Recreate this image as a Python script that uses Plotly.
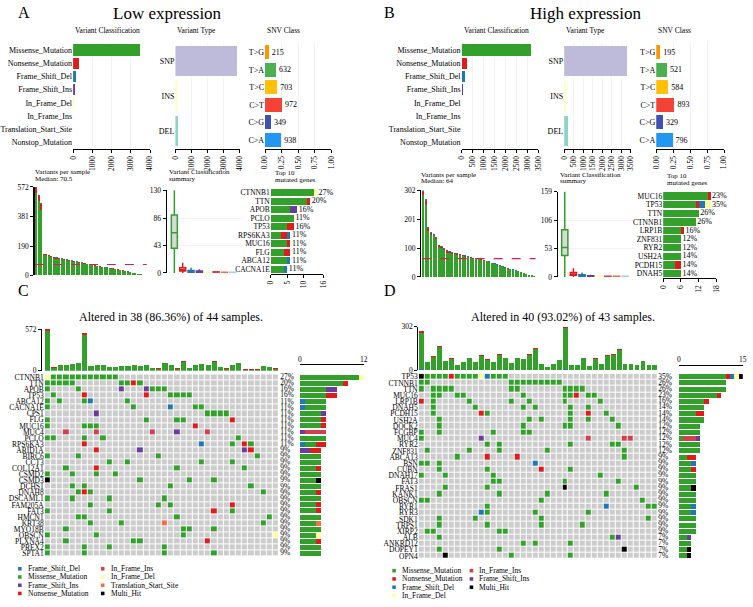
import statistics
import plotly.graph_objects as go

W, H = 753, 607
FONT = "Liberation Serif"

# ============================ DATA ============================
vc_classes = ["Missense_Mutation", "Nonsense_Mutation", "Frame_Shift_Del", "Frame_Shift_Ins",
              "In_Frame_Del", "In_Frame_Ins", "Translation_Start_Site", "Nonstop_Mutation"]
vc_low = [3496, 306, 154, 85, 30, 20, 5, 2]
vc_high = [3157, 239, 149, 59, 25, 15, 3, 1]
vc_ticks_low = [0, 1000, 2000, 3000, 4000]
vc_ticks_high = [0, 500, 1000, 1500, 2000, 2500, 3000, 3500]

vt_types = ["SNP", "INS", "DEL"]
vt_low = [3809, 105, 184]
vt_high = [3318, 74, 174]

snv_classes = ["T>G", "T>A", "T>C", "C>T", "C>G", "C>A"]
snv_low = [215, 632, 703, 972, 349, 938]
snv_high = [195, 521, 584, 893, 329, 796]
snv_ticks = [0, 0.25, 0.5, 0.75, 1.0]
snv_ticktext = ["0.00", "0.25", "0.50", "0.75", "1.00"]

# variants per sample (sorted) split into missense / nonsense / other
vps_low_mis = [534, 484, 426, 132, 130, 127, 121, 113, 109, 105, 103, 102, 98, 94, 92, 89, 85, 82, 80, 76, 72, 68,
               65, 62, 59, 56, 54, 52, 49, 46, 43, 40, 37, 34, 31, 28, 24, 20, 16, 13, 10, 7, 4, 2]
vps_low_non = [30, 30, 36, 6, 6, 6, 5, 5, 5, 5, 5, 4, 4, 4, 4, 4, 4, 4, 3, 3, 3, 3, 3, 3, 3, 3, 2, 2, 2, 2, 2, 2,
               2, 2, 1, 1, 1, 1, 1, 1, 0, 0, 0, 0]
vps_low_oth = [8, 8, 6, 3, 2, 2, 2, 2, 2, 2, 2, 2, 2, 2, 1, 1, 1, 1, 1, 1, 1, 1, 1, 1, 1, 1, 1, 1, 1, 1, 1, 1, 1,
               1, 1, 1, 1, 1, 1, 0, 0, 0, 0, 0]
vps_high_mis = [286, 252, 161, 145, 142, 131, 105, 101, 94, 85, 84, 81, 79, 78, 76, 74, 71, 68, 66, 63, 62, 61, 59,
                57, 54, 51, 47, 44, 41, 38, 35, 32, 29, 26, 24, 21, 19, 16, 14, 11, 8, 5, 3]
vps_high_non = [10, 14, 9, 8, 6, 6, 5, 5, 4, 8, 4, 4, 3, 3, 3, 3, 3, 3, 3, 3, 2, 2, 2, 2, 2, 2, 2, 2, 2, 1, 1, 1,
                1, 1, 1, 1, 1, 1, 0, 0, 0, 0, 0]
vps_high_oth = [6, 5, 3, 3, 2, 2, 2, 2, 2, 2, 2, 2, 2, 1, 1, 1, 1, 1, 1, 1, 1, 1, 1, 1, 1, 1, 1, 1, 1, 1, 1, 1, 1,
                1, 1, 1, 0, 0, 0, 0, 0, 0, 0]

# variant classification summary boxplots
box_low_q1 = [39, 3, 1, 1, 0, 0, 0, 0]
box_low_med = [63, 5, 2, 2, 0, 1, 0, 0]
box_low_q3 = [91, 8, 4, 3, 1, 2, 1, 1]
box_low_lo = [0, 0, 0, 0, 0, 0, 0, 0]
box_low_hi = [165, 16, 8, 6, 2, 3, 2, 2]
box_low_ticks = [0, 43, 86, 130]
box_high_q1 = [40, 3, 1, 0, 0, 0, 0, 0]
box_high_med = [55, 5, 2, 1, 0, 0, 0, 0]
box_high_q3 = [88, 8, 4, 2, 1, 1, 1, 1]
box_high_lo = [0, 0, 0, 0, 0, 0, 0, 0]
box_high_hi = [200, 16, 8, 4, 2, 2, 2, 2]
box_high_ticks = [0, 53, 106, 159]

# top 10 mutated genes
top_low_genes = ["CTNNB1", "TTN", "APOB", "PCLO", "TP53", "RPS6KA3", "MUC16", "FLG", "ABCA12", "CACNA1E"]
top_low_mis = [13, 11, 6, 7, 5, 3, 5, 4, 5, 4]
top_low_non = [0, 1, 0, 0, 2, 2, 1, 2, 0, 0]
top_low_fsd = [0, 0, 0, 0, 0, 1, 0, 0, 1, 1]
top_low_fsi = [0, 0, 2, 0, 0, 0, 0, 0, 0, 0]
top_low_ifd = [1, 0, 0, 0, 0, 0, 0, 0, 0, 0]
top_low_pct = ["27%", "20%", "16%", "11%", "16%", "11%", "11%", "11%", "11%", "11%"]
top_low_ticks = [0, 5, 10, 16]

top_high_genes = ["MUC16", "TP53", "TTN", "CTNNB1", "LRP1B", "ZNF831", "RYR2", "USH2A", "PCDH15", "DNAH5"]
top_high_mis = [15, 11, 12, 11, 6, 6, 6, 6, 4, 6]
top_high_non = [1, 1, 0, 0, 1, 0, 0, 0, 2, 0]
top_high_fsd = [0, 2, 0, 0, 0, 0, 0, 0, 0, 0]
top_high_fsi = [0, 0, 0, 0, 0, 0, 0, 0, 0, 0]
top_high_ifd = [0, 2, 0, 0, 0, 0, 0, 0, 0, 0]
top_high_pct = ["23%", "35%", "26%", "26%", "16%", "12%", "12%", "14%", "14%", "14%"]
top_high_ticks = [0, 6, 12, 18]

# oncoplot C (low expression): 38 altered samples of 44
onco_low_samples_total = 44
onco_low_genes = ["CTNNB1", "TTN", "APOB", "TP53", "ABCA12", "CACNA1E", "CPS1", "FLG", "MUC16", "MUC4", "PCLO",
                  "RPS6KA3", "ARID1A", "BIRC6", "CCT3", "COL12A1", "CSMD2", "CSMD3", "DCHS1", "DNAH8", "DSCAML1",
                  "FAM205A", "FAT3", "HMCN1", "KRT38", "MYO18B", "OBSCN", "PLXNA4", "PREX2", "SPTA1"]
onco_low_rows = [
    "dMMMMMMMMM" "MM........" ".........." "........",
    "MMMMM....." "..MMNM...." ".........." "........",
    "M....M...." "..I...IMMM" ".........." "........",
    ".M....N..." "......N..." "MMMM......" "........",
    "M.M...MD.." "...M......" ".........." "........",
    "M........." "....M....." "D...MM...." "........",
    "........I." ".........." "......MMMM" "........",
    "M........." "......M..." ".MM......." "N.......",
    "M.....MMM." ".........." "....N....." "........",
    "...i....i." ".......i.." ".I....i..." "........",
    "MM....M..M" ".........." ".........." ".M......",
    "......N..." ".........." ".....D...." "M.NM....",
    "........N." ".....I...." ".........." "..IN....",
    "M....M...." "........M." ".........." "....M...",
    ".........." "M..M......" ".....M...." "M.......",
    "...M....N." ".........." ".M........" "..M.....",
    "M...M...M." ".M........" ".........." "........",
    "X........." ".....M...." "...M...M.." "........",
    "....M.M..." ".........." "M........." "...M....",
    ".....MNM.." ".........." ".........." ".....M..",
    "M...M....." "M........M" ".........." "........",
    ".......M.." "........M." "M........." "N.......",
    "M........." "M........." ".......N.." "M.......",
    ".....MM..." ".........." ".M........" "......M.",
    ".......M.." "..M......T" ".........." ".....M..",
    "...M......" ".........." "..MM...M.." "........",
    "M.......M." ".........." "..M......." ".......d",
    "...M......" "....MM...." "......N..." "........",
    "M.....M..." "M........M" ".........." "........",
    "M.....M..." ".........M" ".......M.." "........",
]
onco_low_tmb_mis = [538, 42, 80, 73, 93, 106, 486, 64, 80, 73, 51, 51, 62, 64, 71, 64, 79, 38, 30, 105, 72, 30,
                    124, 38, 73, 89, 73, 123, 51, 30, 79, 101, 17, 17, 17, 58, 51, 30]
onco_low_tmb_non = [28, 2, 4, 3, 4, 5, 28, 3, 4, 3, 2, 2, 5, 3, 4, 3, 5, 2, 1, 6, 3, 1, 5, 2, 3, 4, 3, 6, 2, 1, 5,
                    5, 1, 1, 1, 4, 2, 1]
onco_low_tmb_oth = [6, 1, 2, 1, 2, 2, 8, 1, 2, 1, 1, 1, 1, 1, 2, 1, 2, 1, 1, 2, 2, 1, 2, 1, 1, 2, 1, 2, 1, 1, 2, 2,
                    0, 0, 0, 1, 1, 1]
onco_low_legend = ["Frame_Shift_Del", "Missense_Mutation", "Frame_Shift_Ins", "Nonsense_Mutation",
                   "In_Frame_Ins", "In_Frame_Del", "Translation_Start_Site", "Multi_Hit"]

# oncoplot D (high expression): 40 altered samples of 43
onco_high_samples_total = 43
onco_high_genes = ["TP53", "CTNNB1", "TTN", "MUC16", "LRP1B", "DNAH5", "PCDH15", "USH2A", "DOCK2", "FCGBP", "MUC4",
                   "RYR2", "ZNF831", "ABCA13", "BSN", "CUBN", "DNAH17", "FAT3", "FRAS1", "KANK1", "OBSCN", "RYR1",
                   "RYR3", "SDK1", "TRPS1", "XIRP2", "ALB", "ANKRD12", "DOPEY1", "OPN4"]
onco_high_rows = [
    "XMMMMNMMMM" "dDMMM....." ".........." "..........",
    "MM........" ".....MMMMM" "MMMM......" "..........",
    "M.MMMM...." ".....MM..." "....MMMM.." "..........",
    "..MM..MM.." ".......M.." "....MMN.MM" "..........",
    "N.M.....M." ".....M..M." "....M....." "M.........",
    "..M......M" ".......M.M" ".....M..M." "..........",
    "..M......." "NM........" ".....M..N." ".M........",
    "...M......" "........M." "M....M..M." "..M.......",
    "...M......" ".......M.." "....MM...." "...M......",
    "M..M......" "..M....MM." ".........." "..........",
    "M........." "I........." "........i." "....ii....",
    ".........." ".M.M......" ".....M...." "..MM......",
    ".M......M." "...M......" ".M........" "....M.....",
    "......M..." ".N....N..." ".........." "....M.....",
    "MM.M......" ".........D" ".........." "..........",
    "...M......" ".M........" "N....M...." "..........",
    "M...M....." "..M......." ".........." "M.........",
    ".........." "..MM......" "....M....." "...M......",
    "....M....." ".M........" "....X....." "......M...",
    "...M......" "...M......" ".M........" ".M........",
    "MM........" ".........." "M........." ".......M..",
    ".........." ".M........" ".........." ".D......MM",
    ".........." "DM.......M" "........M." "..........",
    "...M.....M" ".........." "M........." "........M.",
    "...M......" ".M........" "M......M.." "..........",
    ".MM......." "...MM....." ".........." "..........",
    "...M......" ".........." ".........." "..MI......",
    ".........." ".......M.M" ".....M...." "..........",
    "...M......" "...M......" ".........." "....X.....",
    "....X....." ".....M...." ".....M...." "..........",
]
onco_high_tmb_mis = [251, 54, 92, 162, 61, 79, 37, 54, 82, 54, 96, 72, 54, 102, 80, 47, 80, 76, 107, 142, 39, 22,
                     43, 69, 286, 37, 37, 82, 28, 79, 43, 97, 103, 137, 40, 40, 37, 62, 32, 32]
onco_high_tmb_non = [14, 2, 4, 7, 2, 6, 1, 2, 3, 2, 5, 3, 2, 6, 3, 2, 3, 3, 5, 8, 1, 1, 2, 3, 10, 1, 1, 3, 1, 6, 2,
                     4, 5, 9, 2, 2, 1, 3, 1, 1]
onco_high_tmb_oth = [5, 1, 2, 3, 1, 2, 1, 1, 2, 1, 2, 1, 1, 2, 2, 1, 2, 1, 2, 3, 1, 0, 1, 1, 6, 1, 1, 2, 1, 2, 1, 2,
                     2, 3, 1, 1, 1, 1, 1, 1]
onco_high_legend = ["Missense_Mutation", "Nonsense_Mutation", "Frame_Shift_Del", "In_Frame_Del",
                    "In_Frame_Ins", "Frame_Shift_Ins", "Multi_Hit"]

# ============================ STYLE ============================
vc_colors = {"Missense_Mutation": "#33A02C", "Nonsense_Mutation": "#E31A1C", "Frame_Shift_Del": "#1F78B4",
             "Frame_Shift_Ins": "#6A3D9A", "In_Frame_Del": "#FFFF99", "In_Frame_Ins": "#D53E4F",
             "Translation_Start_Site": "#F46D43", "Nonstop_Mutation": "#A6CEE3", "Multi_Hit": "#000000"}
vt_colors = {"SNP": "#BEBADA", "INS": "#FFFFB3", "DEL": "#8DD3C7"}
snv_colors = {"T>G": "#FF9800", "T>A": "#4CAF50", "T>C": "#FFC107", "C>T": "#F44336", "C>G": "#3F51B5",
              "C>A": "#2196F3"}
code_map = {".": 0, "M": 1, "N": 2, "D": 3, "I": 4, "d": 5, "i": 6, "T": 7, "X": 8}
code_class = ["none", "Missense_Mutation", "Nonsense_Mutation", "Frame_Shift_Del", "Frame_Shift_Ins",
              "In_Frame_Del", "In_Frame_Ins", "Translation_Start_Site", "Multi_Hit"]
code_colors = ["#CCCCCC"] + [vc_colors[c] for c in code_class[1:]]

TICKFONT = dict(family=FONT, size=7.5, color="black")
LINE = dict(showline=True, linecolor="black", linewidth=1.3)
ONCO_FONT = 7.5

layout = {}
traces = []
annotations = []
shapes = []
_n = [0]


def base_axis(**kw):
    d = dict(showgrid=False, zeroline=False, showline=False, ticks="", showticklabels=False,
             fixedrange=True, tickfont=TICKFONT)
    d.update(kw)
    return d


def new_axes(xd, yd, xa=None, ya=None):
    _n[0] += 1
    n = _n[0]
    s = "" if n == 1 else str(n)
    xn, yn = "x" + s, "y" + s
    xc = base_axis(domain=[xd[0] / W, xd[1] / W], anchor=yn)
    yc = base_axis(domain=[1 - yd[1] / H, 1 - yd[0] / H], anchor=xn)
    xc.update(xa or {})
    yc.update(ya or {})
    layout["xaxis" + s] = xc
    layout["yaxis" + s] = yc
    return xn, yn


def ann(text, x, y, size=7.5, xanchor="left", yanchor="middle"):
    annotations.append(dict(text=text, x=x / W, y=1 - y / H, xref="paper", yref="paper", showarrow=False,
                            xanchor=xanchor, yanchor=yanchor, font=dict(family=FONT, size=size, color="black")))


def cat_axis(cats, size=7.5, show=True):
    return dict(type="category", categoryorder="array", categoryarray=cats, range=[len(cats) - 0.5, -0.5],
                tickmode="array", tickvals=cats, ticktext=cats,
                showticklabels=show, tickfont=dict(family=FONT, size=size, color="black"))


def val_axis(rng, tickvals, ticktext=None, angle=None, grid=False, **kw):
    d = dict(range=rng, tickvals=tickvals, showticklabels=True, ticks="outside", ticklen=3, tickwidth=1,
             tickcolor="black", **LINE)
    if ticktext is not None:
        d["ticktext"] = ticktext
    if angle is not None:
        d["tickangle"] = angle
    if grid:
        d.update(showgrid=True, gridcolor="#EBEBEB", gridwidth=0.6)
    d.update(kw)
    return d


# ============================ TOP ROW (A / B) ============================
def top_row(vc_vals, vt_vals, snv_vals, vc_x, vt_x, snv_x, vc_ticks):
    ytop, ybot = 40, 147
    vmax = vc_ticks[-1]
    xa, ya = new_axes(vc_x, (ytop, ybot), val_axis([0, vmax], vc_ticks, angle=-90, grid=True),
                      cat_axis(vc_classes, 8))
    traces.append(go.Bar(x=vc_vals, y=vc_classes, orientation="h", width=0.85,
                         marker=dict(color=[vc_colors[c] for c in vc_classes], line_width=0),
                         xaxis=xa, yaxis=ya, hoverinfo="skip"))
    ann("Variant Classification", vc_x[0], 27)

    xa, ya = new_axes(vt_x, (ytop, ybot), val_axis([0, vmax], vc_ticks, angle=-90, grid=True),
                      cat_axis(vt_types, 8))
    traces.append(go.Bar(x=vt_vals, y=vt_types, orientation="h", width=0.85,
                         marker=dict(color=[vt_colors[c] for c in vt_types], line_width=0),
                         xaxis=xa, yaxis=ya, hoverinfo="skip"))
    ann("Variant Type", vt_x[0], 27)

    total = sum(snv_vals)
    frac = [v / total for v in snv_vals]
    xa, ya = new_axes(snv_x, (ytop, ybot), val_axis([0, 1], snv_ticks, snv_ticktext, angle=-90, grid=True),
                      cat_axis(snv_classes, 8))
    traces.append(go.Bar(x=frac, y=snv_classes, orientation="h", width=0.8,
                         marker=dict(color=[snv_colors[c] for c in snv_classes], line_width=0),
                         text=[str(v) for v in snv_vals], textposition="outside", constraintext="none",
                         textfont=dict(family=FONT, size=8, color="black"), cliponaxis=False,
                         xaxis=xa, yaxis=ya, hoverinfo="skip"))
    ann("SNV Class", snv_x[0], 27)


top_row(vc_low, vt_low, snv_low, (68, 146), (171.7, 237), (262.5, 329.5), vc_ticks_low)
top_row(vc_high, vt_high, snv_high, (461.7, 539.3), (565.7, 633.3), (659, 727.7), vc_ticks_high)


# ============================ LOWER ROW (A / B) ============================
def lower_row(mis, non, oth, vps_x, vps_y, title_y, box_stats, box_x, box_y, box_xr, box_ticks,
              tgenes, tstacks, tpct, tticks, top_x, top_y, top_title_y):
    # variants per sample
    n = len(mis)
    totals = [a + b + c for a, b, c in zip(mis, non, oth)]
    ymax = max(totals)
    ticks = [int(ymax * k / 3) for k in range(4)]
    xa, ya = new_axes(vps_x, vps_y, dict(range=[-0.6, n - 0.4]),
                      val_axis([0, ymax], ticks))
    xs = list(range(n))
    for vals, col in ((mis, vc_colors["Missense_Mutation"]), (non, vc_colors["Nonsense_Mutation"]),
                      (oth, vc_colors["Frame_Shift_Del"])):
        traces.append(go.Bar(x=xs, y=vals, width=0.8, marker=dict(color=col, line_width=0),
                             xaxis=xa, yaxis=ya, hoverinfo="skip"))
    med = statistics.median(totals)
    traces.append(go.Scatter(x=[-0.5, n - 0.5], y=[med, med], mode="lines",
                             line=dict(color="#D81B60", width=1.2, dash="dash"),
                             xaxis=xa, yaxis=ya, hoverinfo="skip"))
    ann("Variants per sample", vps_x[0] - 2, title_y, size=7)
    ann("Median: " + (f"{med:g}"), vps_x[0] - 2, title_y + 6.5, size=7)

    # variant classification summary
    q1, md, q3, lo, hi = box_stats
    xa, ya = new_axes(box_x, box_y, dict(range=box_xr),
                      val_axis([0, box_ticks[-1]], box_ticks, grid=True))
    for k, c in enumerate(vc_classes):
        traces.append(go.Box(x=[k], q1=[q1[k]], median=[md[k]], q3=[q3[k]], lowerfence=[lo[k]],
                             upperfence=[hi[k]], width=0.72, whiskerwidth=0, boxpoints=False,
                             fillcolor="#D9D9D9", line=dict(color=vc_colors[c], width=1.5),
                             xaxis=xa, yaxis=ya, hoverinfo="skip"))
    ann("Variant Classification", box_x[0], title_y, size=7)
    ann("summary", box_x[0], title_y + 6.5, size=7)

    # top 10 genes
    xa, ya = new_axes(top_x, top_y, val_axis([0, tticks[-1]], tticks, angle=-90, grid=True),
                      cat_axis(tgenes, 7.5))
    tot = [0] * len(tgenes)
    for cls, vals in tstacks:
        traces.append(go.Bar(x=vals, y=tgenes, orientation="h", width=0.85,
                             marker=dict(color=vc_colors[cls], line_width=0),
                             xaxis=xa, yaxis=ya, hoverinfo="skip"))
        tot = [a + b for a, b in zip(tot, vals)]
    traces.append(go.Scatter(x=tot, y=tgenes, mode="text", text=["\u2009" + p for p in tpct],
                             textposition="middle right", cliponaxis=False,
                             textfont=dict(family=FONT, size=8, color="black"),
                             xaxis=xa, yaxis=ya, hoverinfo="skip"))
    ann("Top 10", top_x[0] + 2, top_title_y, size=7)
    ann("mutated genes", top_x[0] + 2, top_title_y + 6.5, size=7)


lower_row(vps_low_mis, vps_low_non, vps_low_oth, (29, 143), (185.7, 275.5), 171,
          (box_low_q1, box_low_med, box_low_q3, box_low_lo, box_low_hi), (163, 240), (189, 273),
          [-0.9, 8.2], box_low_ticks,
          top_low_genes, [("Missense_Mutation", top_low_mis), ("Nonsense_Mutation", top_low_non),
                          ("Frame_Shift_Del", top_low_fsd), ("Frame_Shift_Ins", top_low_fsi),
                          ("In_Frame_Del", top_low_ifd)],
          top_low_pct, top_low_ticks, (268.3, 321.7), (187.4, 273.6), 172)

lower_row(vps_high_mis, vps_high_non, vps_high_oth, (421, 537), (189.3, 277), 173.5,
          (box_high_q1, box_high_med, box_high_q3, box_high_lo, box_high_hi), (559.3, 638), (190.7, 277),
          [-0.8, 8.2], box_high_ticks,
          top_high_genes, [("Missense_Mutation", top_high_mis), ("Nonsense_Mutation", top_high_non),
                           ("Frame_Shift_Del", top_high_fsd), ("Frame_Shift_Ins", top_high_fsi),
                           ("In_Frame_Del", top_high_ifd)],
          top_high_pct, top_high_ticks, (666, 720), (190.6, 278), 175)


# ============================ ONCOPLOTS (C / D) ============================
def oncoplot(genes, rows, nsamp, tmis, tnon, toth, grid_x, grid_y, top_y, axis_x, pct_x, right_x,
             right_axis_y, right_max, legend_order):
    ncol = len(tmis)
    rows = [r[:ncol].ljust(ncol, ".") for r in rows]
    z = [[code_map[ch] for ch in r] for r in rows]
    nk = len(code_colors)
    cs = []
    for k, col in enumerate(code_colors):
        cs.append([k / nk, col])
        cs.append([(k + 1) / nk, col])

    # top bar
    totals = [a + b + c for a, b, c in zip(tmis, tnon, toth)]
    ymax = max(totals)
    xa, ya = new_axes(grid_x, top_y, dict(range=[-0.5, ncol - 0.5]),
                      val_axis([0, ymax], [0, ymax], anchor="free", position=axis_x / W))
    xs = list(range(ncol))
    for vals, col in ((toth, vc_colors["Frame_Shift_Del"]), (tmis, vc_colors["Missense_Mutation"]),
                      (tnon, vc_colors["Nonsense_Mutation"])):
        traces.append(go.Bar(x=xs, y=vals, width=0.82, marker=dict(color=col, line_width=0),
                             xaxis=xa, yaxis=ya, hoverinfo="skip"))

    # grid
    xa, ya = new_axes(grid_x, grid_y, dict(range=[-0.5, ncol - 0.5]), cat_axis(genes, ONCO_FONT))
    traces.append(go.Heatmap(z=z, x=xs, y=genes, colorscale=cs, zmin=-0.5, zmax=nk - 0.5, showscale=False,
                             xgap=1, ygap=1, xaxis=xa, yaxis=ya, hoverinfo="skip"))

    # percentages
    counts = [sum(1 for ch in r if ch != ".") for r in rows]
    pcts = [f"{round(100 * c / nsamp)}%" for c in counts]
    xa, ya = new_axes(pct_x, grid_y, dict(range=[0, 1]), cat_axis(genes, ONCO_FONT, show=False))
    traces.append(go.Scatter(x=[0] * len(genes), y=genes, mode="text", text=pcts, textposition="middle right",
                             cliponaxis=False, textfont=dict(family=FONT, size=ONCO_FONT, color="black"),
                             xaxis=xa, yaxis=ya, hoverinfo="skip"))

    # right bar (tick labels written as text above the axis line)
    xa, ya = new_axes(right_x, grid_y,
                      dict(range=[0, right_max], tickvals=[0, right_max], showticklabels=False, side="top",
                           anchor="free", position=1 - right_axis_y / H, ticks="inside", ticklen=3,
                           tickcolor="black", **LINE),
                      cat_axis(genes, ONCO_FONT, show=False))
    ann("0", right_x[0], right_axis_y - 5, size=7.5, xanchor="center")
    ann(str(right_max), right_x[1], right_axis_y - 5, size=7.5, xanchor="center")
    for cls in legend_order:
        code = code_class.index(cls)
        vals = [sum(1 for ch in r if code_map[ch] == code) for r in rows]
        traces.append(go.Bar(x=vals, y=genes, orientation="h", width=0.82,
                             marker=dict(color=vc_colors[cls], line_width=0),
                             xaxis=xa, yaxis=ya, hoverinfo="skip"))


def legend(items, col_x, row_y):
    for i, cls in enumerate(items):
        cx = col_x[i // len(row_y)]
        cy = row_y[i % len(row_y)]
        shapes.append(dict(type="rect", xref="paper", yref="paper", x0=(cx - 1.8) / W, x1=(cx + 1.8) / W,
                           y0=1 - (cy + 1.8) / H, y1=1 - (cy - 1.8) / H, fillcolor=vc_colors[cls],
                           line=dict(width=0)))
        ann(cls, cx + 6, cy, size=7.5)


oncoplot(onco_low_genes, onco_low_rows, onco_low_samples_total, onco_low_tmb_mis, onco_low_tmb_non,
         onco_low_tmb_oth, (39.3, 276.7), (375.9, 560.8), (330, 372.3), 35.5, (278, 296), (297.7, 362.7),
         365.5, 12, onco_low_legend)
legend(onco_low_legend, [14, 98], [573.3, 581.6, 590, 598.3])

oncoplot(onco_high_genes, onco_high_rows, onco_high_samples_total, onco_high_tmb_mis, onco_high_tmb_non,
         onco_high_tmb_oth, (418.3, 660.7), (375.2, 563.4), (327.7, 371.7), 416.7, (661, 680),
         (681.7, 746.7), 366, 15, onco_high_legend)
legend(onco_high_legend, [393.3, 471.7], [575.2, 583.6, 592, 600.4])

# ============================ TITLES ============================
ann("A", 10, 9, size=16)
ann("Low expression", 163.7, 10, size=17, xanchor="center")
ann("B", 381, 9, size=16)
ann("High expression", 587.3, 10, size=17, xanchor="center")
ann("C", 10, 291, size=16)
ann(f"Altered in 38 (86.36%) of {onco_low_samples_total} samples.", 167, 318, size=12, xanchor="center")
ann("D", 381, 291, size=16)
ann(f"Altered in 40 (93.02%) of {onco_high_samples_total} samples.", 565, 318, size=12, xanchor="center")

layout.update(dict(width=W, height=H, margin=dict(l=0, r=0, t=0, b=0), paper_bgcolor="white",
                   plot_bgcolor="white", showlegend=False, barmode="stack",
                   font=dict(family=FONT, size=8, color="black"),
                   annotations=annotations, shapes=shapes))

fig = go.Figure(data=traces, layout=layout)
fig.write_html("out.html", config={"displayModeBar": False, "staticPlot": True},
               post_script="document.body.style.margin='0';document.body.style.padding='0';"
                           "document.body.style.overflow='hidden';")
